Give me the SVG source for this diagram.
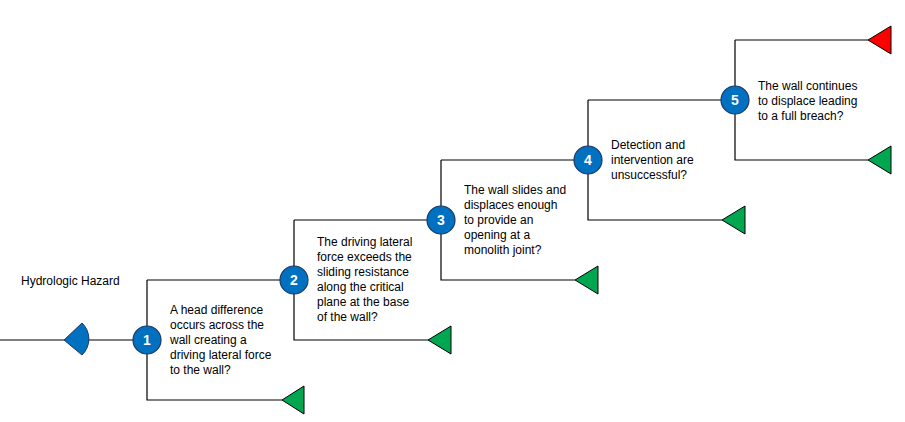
<svg xmlns="http://www.w3.org/2000/svg" width="905" height="422" viewBox="0 0 905 422">
<style>
.l{stroke:#000;stroke-width:1.2;fill:none}
.n circle{fill:#0070C0;stroke:#1F3864;stroke-width:1.2}
.n .num{fill:#fff;font:bold 14px "Liberation Sans",Arial,sans-serif;text-anchor:middle}
.t{font:12px "Liberation Sans",Arial,sans-serif;fill:#000}
.g{fill:#00A650;stroke:#000;stroke-width:1}
.r{fill:#FF0000;stroke:#000;stroke-width:1}
</style>
<rect width="905" height="422" fill="#fff"/>
<g id="connectors">
<path class="l" d="M0,340H147M147,280V400H282M147,280H294"/>
<path class="l" d="M294,220V340H428M294,220H441"/>
<path class="l" d="M441,160V280H575M441,160H588"/>
<path class="l" d="M588,100V220H722M588,100H735"/>
<path class="l" d="M735,40V160H868M735,40H868"/>
</g>
<g id="hazard">
<path d="M64,340L82,323A22,22 0 0 1 82,355Z" fill="#0070C0" stroke="#1F3864" stroke-width="1"/>
<text class="t" x="21" y="285">Hydrologic Hazard</text>
</g>
<g id="end1"><path class="g" d="M282,400L304,386V414Z"/></g>
<g id="end2"><path class="g" d="M428,340L451,326V354Z"/></g>
<g id="end3"><path class="g" d="M575,280L598,266V294Z"/></g>
<g id="end4"><path class="g" d="M722,220L745,206V234Z"/></g>
<g id="end5a"><path class="r" d="M868,40L891,26V54Z"/></g>
<g id="end5b"><path class="g" d="M868,160L891,146V174Z"/></g>
<g id="node1" class="n"><circle cx="147" cy="340" r="14"/><text class="num" x="147" y="345">1</text>
<text class="t" x="170" y="314">A head difference<tspan x="170" dy="15">occurs across the</tspan><tspan x="170" dy="15">wall creating a</tspan><tspan x="170" dy="15">driving  lateral force</tspan><tspan x="170" dy="15">to the wall?</tspan></text></g>
<g id="node2" class="n"><circle cx="294" cy="280" r="14"/><text class="num" x="294" y="285">2</text>
<text class="t" x="317" y="246">The driving lateral<tspan x="317" dy="15">force exceeds the</tspan><tspan x="317" dy="15">sliding resistance</tspan><tspan x="317" dy="15">along the critical</tspan><tspan x="317" dy="15">plane at the base</tspan><tspan x="317" dy="15">of the wall?</tspan></text></g>
<g id="node3" class="n"><circle cx="441" cy="220" r="14"/><text class="num" x="441" y="225">3</text>
<text class="t" x="464" y="194">The wall slides and<tspan x="464" dy="15">displaces enough</tspan><tspan x="464" dy="15">to provide  an</tspan><tspan x="464" dy="15">opening at a</tspan><tspan x="464" dy="15">monolith joint?</tspan></text></g>
<g id="node4" class="n"><circle cx="588" cy="160" r="14"/><text class="num" x="588" y="165">4</text>
<text class="t" x="611" y="149">Detection and<tspan x="611" dy="15">intervention  are</tspan><tspan x="611" dy="15">unsuccessful?</tspan></text></g>
<g id="node5" class="n"><circle cx="735" cy="100" r="14"/><text class="num" x="735" y="105">5</text>
<text class="t" x="758" y="90">The  wall continues<tspan x="758" dy="15">to displace leading</tspan><tspan x="758" dy="15">to a full breach?</tspan></text></g>
</svg>
